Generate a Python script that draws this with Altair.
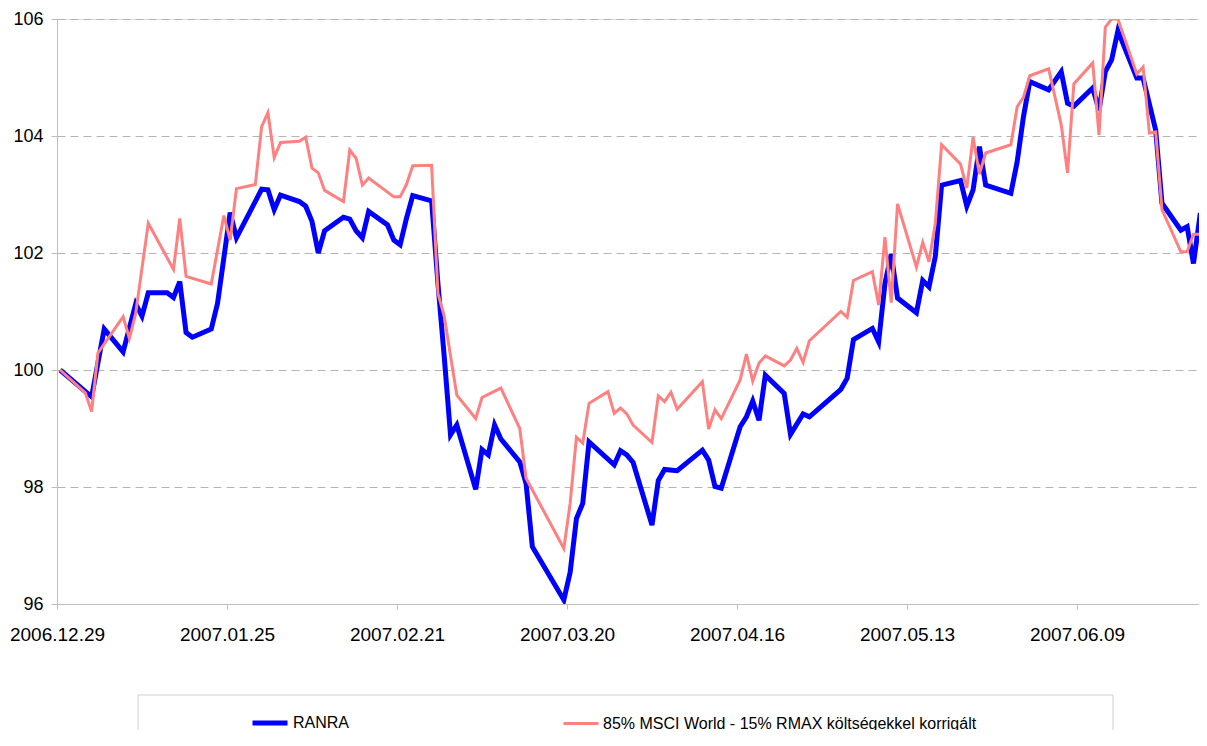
import altair as alt
import pandas as pd

ranra_name = "RANRA"
bench_name = "85% MSCI World - 15% RMAX költségekkel korrigált"

ranra_dates = ["2006-12-29","2007-01-03","2007-01-05","2007-01-08","2007-01-10","2007-01-11","2007-01-12","2007-01-15","2007-01-16","2007-01-17","2007-01-18","2007-01-19","2007-01-22","2007-01-23","2007-01-25","2007-01-26","2007-01-30","2007-01-31","2007-02-01","2007-02-02","2007-02-05","2007-02-06","2007-02-07","2007-02-08","2007-02-09","2007-02-12","2007-02-13","2007-02-14","2007-02-15","2007-02-16","2007-02-19","2007-02-20","2007-02-21","2007-02-22","2007-02-23","2007-02-26","2007-02-27","2007-02-28","2007-03-01","2007-03-02","2007-03-05","2007-03-06","2007-03-07","2007-03-08","2007-03-09","2007-03-12","2007-03-13","2007-03-14","2007-03-19","2007-03-20","2007-03-21","2007-03-22","2007-03-23","2007-03-27","2007-03-28","2007-03-29","2007-03-30","2007-04-02","2007-04-03","2007-04-04","2007-04-06","2007-04-10","2007-04-11","2007-04-12","2007-04-13","2007-04-16","2007-04-17","2007-04-18","2007-04-19","2007-04-20","2007-04-23","2007-04-24","2007-04-26","2007-04-27","2007-05-02","2007-05-03","2007-05-04","2007-05-07","2007-05-08","2007-05-09","2007-05-10","2007-05-11","2007-05-14","2007-05-15","2007-05-16","2007-05-17","2007-05-18","2007-05-21","2007-05-22","2007-05-23","2007-05-24","2007-05-25","2007-05-29","2007-05-30","2007-05-31","2007-06-01","2007-06-04","2007-06-06","2007-06-07","2007-06-08","2007-06-11","2007-06-12","2007-06-13","2007-06-14","2007-06-15","2007-06-18","2007-06-19","2007-06-21","2007-06-22","2007-06-25","2007-06-26","2007-06-27","2007-06-28","2007-06-29"]
ranra_values = [100.00, 99.54, 100.70, 100.31, 101.13, 100.92, 101.32, 101.32, 101.24, 101.51, 100.64, 100.56, 100.70, 101.14, 102.69, 102.26, 103.09, 103.08, 102.74, 102.99, 102.88, 102.80, 102.54, 102.00, 102.38, 102.61, 102.58, 102.38, 102.26, 102.71, 102.48, 102.22, 102.14, 102.59, 102.98, 102.89, 101.48, 100.23, 98.89, 99.06, 97.96, 98.64, 98.55, 99.06, 98.82, 98.43, 98.06, 96.98, 96.07, 96.54, 97.46, 97.72, 98.77, 98.38, 98.62, 98.55, 98.42, 97.35, 98.11, 98.30, 98.28, 98.63, 98.46, 98.01, 97.98, 99.03, 99.20, 99.47, 99.14, 99.91, 99.60, 98.90, 99.25, 99.20, 99.67, 99.86, 100.52, 100.71, 100.48, 101.48, 101.98, 101.23, 100.98, 101.53, 101.42, 101.94, 103.16, 103.24, 102.80, 103.08, 103.82, 103.16, 103.02, 103.56, 104.33, 104.93, 104.79, 105.10, 104.56, 104.51, 104.82, 104.44, 105.10, 105.30, 105.80, 104.99, 104.99, 104.10, 102.85, 102.39, 102.45, 101.82, 102.61, 102.51]

bench_dates = ["2006-12-29","2007-01-02","2007-01-03","2007-01-04","2007-01-08","2007-01-09","2007-01-10","2007-01-12","2007-01-16","2007-01-17","2007-01-18","2007-01-22","2007-01-24","2007-01-25","2007-01-26","2007-01-29","2007-01-30","2007-01-31","2007-02-01","2007-02-02","2007-02-05","2007-02-06","2007-02-07","2007-02-08","2007-02-09","2007-02-12","2007-02-13","2007-02-14","2007-02-15","2007-02-16","2007-02-20","2007-02-21","2007-02-22","2007-02-23","2007-02-26","2007-02-27","2007-02-28","2007-03-02","2007-03-05","2007-03-06","2007-03-09","2007-03-12","2007-03-13","2007-03-19","2007-03-20","2007-03-21","2007-03-22","2007-03-23","2007-03-26","2007-03-27","2007-03-28","2007-03-29","2007-03-30","2007-04-02","2007-04-03","2007-04-04","2007-04-05","2007-04-06","2007-04-10","2007-04-11","2007-04-12","2007-04-13","2007-04-16","2007-04-17","2007-04-18","2007-04-19","2007-04-20","2007-04-23","2007-04-24","2007-04-25","2007-04-26","2007-04-27","2007-05-02","2007-05-03","2007-05-04","2007-05-07","2007-05-08","2007-05-09","2007-05-10","2007-05-11","2007-05-14","2007-05-15","2007-05-16","2007-05-17","2007-05-18","2007-05-21","2007-05-22","2007-05-23","2007-05-24","2007-05-25","2007-05-29","2007-05-30","2007-05-31","2007-06-01","2007-06-04","2007-06-06","2007-06-07","2007-06-08","2007-06-11","2007-06-12","2007-06-13","2007-06-14","2007-06-15","2007-06-18","2007-06-19","2007-06-20","2007-06-21","2007-06-22","2007-06-25","2007-06-26","2007-06-27","2007-06-28","2007-06-29"]
bench_values = [100.00, 99.61, 99.29, 100.29, 100.91, 100.54, 100.97, 102.51, 101.72, 102.59, 101.60, 101.47, 102.64, 102.22, 103.10, 103.17, 104.16, 104.40, 103.63, 103.89, 103.91, 103.98, 103.45, 103.37, 103.07, 102.88, 103.76, 103.62, 103.16, 103.28, 102.96, 102.96, 103.17, 103.49, 103.50, 101.31, 100.92, 99.57, 99.17, 99.53, 99.69, 99.00, 98.15, 96.95, 97.72, 98.85, 98.75, 99.43, 99.63, 99.26, 99.35, 99.25, 99.06, 98.76, 99.56, 99.46, 99.62, 99.33, 99.80, 98.99, 99.32, 99.17, 99.83, 100.27, 99.81, 100.12, 100.24, 100.07, 100.17, 100.37, 100.13, 100.50, 101.00, 100.90, 101.53, 101.68, 101.11, 102.27, 101.15, 102.84, 101.76, 102.18, 101.85, 102.51, 103.85, 103.52, 103.11, 103.98, 103.35, 103.71, 103.85, 104.50, 104.66, 105.03, 105.15, 104.19, 103.37, 104.89, 105.25, 104.02, 105.86, 106.00, 106.00, 105.06, 105.18, 104.05, 104.07, 102.74, 102.02, 102.02, 102.32, 102.32, 102.14]

tick_dates = ["2006-12-29", "2007-01-25", "2007-02-21", "2007-03-20", "2007-04-16", "2007-05-13", "2007-06-09"]
y_ticks = [96, 98, 100, 102, 104, 106]

df = pd.concat([
    pd.DataFrame({"date": ranra_dates, "value": ranra_values, "series": ranra_name}),
    pd.DataFrame({"date": bench_dates, "value": bench_values, "series": bench_name}),
], ignore_index=True)
# Excel date axis: points sit in the middle of each day slot
df["date"] = pd.to_datetime(df["date"]) + pd.Timedelta(hours=12)
df["date"] = df["date"].dt.strftime("%Y-%m-%dT%H:%M:%S")


def dt(s, h=0, mi=0):
    y, m, d = [int(p) for p in s.split("-")]
    return alt.DateTime(year=y, month=m, date=d, hours=h, minutes=mi)


FONT = "Liberation Sans"
series_order = [ranra_name, bench_name]

legend = alt.Legend(
    title=None, orient="none", legendX=193, legendY=684, direction="horizontal",
    symbolType="stroke", symbolSize=1225, labelFontSize=16, labelFont=FONT,
    labelColor="#000000", labelOffset=3, columnPadding=207, labelLimit=800,
)

lines = alt.Chart(df).mark_line(strokeJoin="miter", strokeCap="butt", clip=True).encode(
    x=alt.X("date:T",
            scale=alt.Scale(domain=[dt("2006-12-29"), dt("2007-06-28", 9, 7)], nice=False),
            axis=alt.Axis(title=None, values=[dt(s) for s in tick_dates], format="%Y.%m.%d",
                          grid=False, tickSize=5, labelPadding=16, labelFontSize=19,
                          labelFont=FONT, labelColor="#000000", domainColor="#bfbfbf",
                          tickColor="#bfbfbf", labelFlush=False, labelOverlap=False)),
    y=alt.Y("value:Q",
            scale=alt.Scale(domain=[96, 106], nice=False, zero=False),
            axis=alt.Axis(title=None, values=y_ticks, format="d", grid=True,
                          gridDash=[8, 5], gridColor="#b4b4b4", gridWidth=1,
                          tickSize=6, labelPadding=8, labelFontSize=18, labelFont=FONT,
                          labelColor="#000000", domainColor="#bfbfbf", tickColor="#bfbfbf")),
    color=alt.Color("series:N", sort=series_order,
                    scale=alt.Scale(domain=series_order, range=["#0000FF", "#FF8080"]),
                    legend=legend),
    strokeWidth=alt.StrokeWidth("series:N", sort=series_order,
                                scale=alt.Scale(domain=series_order, range=[5, 3]),
                                legend=legend),
)

box = alt.Chart(alt.Data(values=[{}])).mark_rect(
    fillOpacity=0, stroke="#d0d0d0", strokeWidth=1
).encode(
    x=alt.value(81), x2=alt.value(1056), y=alt.value(676), y2=alt.value(800)
)

chart = alt.layer(box, lines).properties(
    width=1142, height=585,
    autosize=alt.AutoSizeParams(type="none"),
    padding={"left": 49, "top": 11, "right": 0, "bottom": 126},
).configure_view(stroke=None).configure(font=FONT)

chart.save("out.html", embed_options={"renderer": "svg", "actions": False})
